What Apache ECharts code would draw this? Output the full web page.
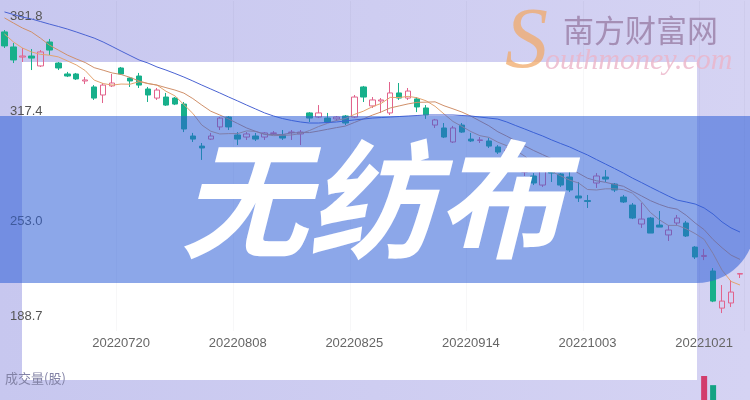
<!DOCTYPE html>
<html><head><meta charset="utf-8">
<script src="https://cdn.jsdelivr.net/npm/echarts@6/dist/echarts.min.js"></script>
<style>html,body{margin:0;padding:0;background:#c9c9ef}#c{width:750px;height:400px}</style>
</head><body><div id="c"></div>
<script>
const dates = ['20220630','20220704','20220705','20220706','20220707','20220708','20220711','20220712','20220713','20220714','20220715','20220718','20220719','20220720','20220721','20220722','20220725','20220726','20220727','20220728','20220729','20220801','20220802','20220803','20220804','20220805','20220808','20220809','20220810','20220811','20220812','20220815','20220816','20220817','20220818','20220819','20220822','20220823','20220824','20220825','20220826','20220829','20220830','20220831','20220901','20220902','20220905','20220906','20220907','20220908','20220909','20220913','20220914','20220915','20220916','20220919','20220920','20220921','20220922','20220923','20220926','20220927','20220928','20220929','20220930','20221003','20221005','20221006','20221007','20221010','20221011','20221012','20221013','20221014','20221017','20221018','20221019','20221020','20221021','20221024','20221025','20221026','20221027'];
// [open, close, low, high]
const candles = [
[363.7,355.5,354.3,364.8],[354.9,347.3,345.5,357.2],[349.0,349.6,346.1,354.3],[349.6,348.4,341.4,353.7],[343.8,352.0,343.2,353.1],
[357.8,353.1,350.2,359.6],[345.5,342.6,341.4,346.1],[339.1,337.9,337.3,340.3],[339.1,336.2,335.6,339.7],[335.0,335.6,333.2,337.3],
[331.5,325.0,323.9,332.6],[326.8,332.6,322.1,333.8],[332.1,333.8,331.5,339.1],[342.6,339.1,338.5,343.2],[336.7,335.0,331.5,337.3],
[337.9,332.6,330.9,339.7],[330.3,326.8,322.7,331.5],[325.0,329.7,323.9,330.9],[325.6,320.9,320.4,328.0],[325.0,321.5,320.9,325.6],
[321.5,306.9,305.1,322.7],[302.8,301.0,299.3,304.6],[296.9,295.8,288.8,298.7],[301.0,302.8,300.5,304.6],[308.1,313.3,306.3,313.9],
[313.9,308.1,306.3,314.5],[303.4,301.0,297.5,305.1],[302.2,304.0,300.5,305.1],[302.8,301.0,299.9,304.6],[302.2,304.6,300.5,305.1],
[304.3,304.6,303.4,305.7],[303.4,301.6,300.5,306.3],[304.8,305.1,300.5,306.3],[304.0,305.1,297.5,306.3],[316.3,313.3,311.0,316.8],
[313.9,316.3,313.3,320.9],[313.3,311.0,310.4,316.3],[312.8,313.9,311.6,314.5],[314.5,310.4,309.2,315.1],[313.9,325.6,313.3,326.8],
[331.5,325.6,322.7,332.1],[320.4,323.9,319.2,325.6],[323.3,323.9,316.3,325.0],[316.3,328.0,315.1,334.4],[328.0,325.0,323.9,333.8],
[325.0,329.1,323.9,330.9],[324.5,319.8,316.8,325.6],[319.2,315.1,312.8,320.9],[309.2,312.2,307.5,312.8],[307.5,302.2,301.6,310.4],
[299.3,307.5,298.7,308.7],[309.2,305.1,304.6,310.4],[301.0,299.9,299.3,304.6],[300.2,300.5,298.7,302.2],[299.9,296.9,295.8,301.6],
[296.4,293.4,292.3,297.5],[291.7,294.6,288.8,296.4],[289.3,286.4,285.2,291.1],[281.7,283.5,279.4,285.8],[279.4,275.3,274.1,281.1],
[274.1,283.5,273.0,287.6],[282.9,281.1,275.9,283.5],[280.6,274.1,273.0,281.1],[278.8,271.2,270.0,283.5],[267.7,266.5,264.2,275.9],
[265.0,264.5,260.7,268.3],[275.3,279.4,272.4,281.1],[278.8,277.6,275.9,282.9],[274.7,271.2,270.0,275.3],[267.1,264.2,263.6,268.3],
[262.4,254.8,254.2,263.6],[251.3,254.2,249.0,263.6],[254.8,246.0,246.0,255.4],[250.7,249.5,249.5,258.9],[244.9,247.8,241.4,250.7],
[251.9,254.8,250.7,256.6],[251.9,244.3,243.7,253.1],[237.8,232.0,230.8,238.4],[232.3,232.9,230.2,236.7],[223.8,206.2,205.6,225.5],
[202.1,206.2,199.2,215.6],[205.1,211.5,202.7,218.5],[222.0,222.3,219.7,222.6]
];
const ma5 = [362.5,357.8,354.3,352.0,350.6,350.1,349.1,346.8,344.4,341.1,
335.5,333.5,332.6,333.2,333.1,334.6,333.5,332.6,329.0,326.3,
321.2,316.0,309.2,305.6,304.0,304.2,304.2,305.8,305.5,303.7,
303.0,303.2,303.4,304.2,306.0,308.3,310.2,311.9,313.0,315.4,
317.3,319.9,321.9,325.4,325.3,326.0,325.2,323.4,320.2,315.7,
311.3,308.4,305.4,303.0,302.0,299.2,297.1,294.4,291.0,286.6,
284.7,282.0,279.5,277.0,275.3,271.5,271.2,271.9,271.9,271.4,
269.4,264.4,258.1,253.8,250.5,250.5,248.5,245.7,242.3,234.0,
224.3,217.7,215.6];
const ma10 = [371.9,368.9,366.0,363.7,360.1,356.0,353.1,350.2,347.9,345.8,
342.8,341.3,339.7,338.8,337.1,335.0,333.5,332.6,331.1,329.7,
327.9,324.7,320.9,317.3,315.1,312.7,310.1,307.5,305.5,303.9,
303.6,303.7,304.6,304.8,304.8,305.7,306.7,307.7,308.6,310.7,
312.8,315.0,316.9,319.2,320.4,321.6,322.5,322.6,322.8,320.5,
318.7,316.8,314.4,311.6,308.8,305.3,302.7,299.9,297.0,294.3,
291.9,289.5,286.9,284.0,281.0,278.1,276.6,275.7,274.5,273.4,
270.5,267.8,265.0,262.8,261.0,260.0,256.4,251.9,248.0,242.2,
237.4,233.1,230.6];
const ma20 = [375.4,373.9,372.4,371.3,369.8,368.3,366.9,365.4,363.7,361.9,
360.1,357.8,355.2,352.5,349.9,347.3,345.5,343.2,341.4,339.4,
337.3,335.0,332.6,330.3,328.0,325.6,323.3,320.9,318.6,316.3,
314.5,313.0,311.9,311.0,310.4,310.4,310.7,311.0,311.6,312.2,
312.7,313.3,313.6,313.9,314.2,314.5,314.8,315.1,315.1,315.1,
315.1,314.8,314.5,313.9,313.3,312.7,311.0,308.9,306.9,304.8,
302.8,300.5,298.4,296.4,294.0,291.7,289.0,286.4,283.8,281.1,
278.2,275.6,272.9,270.3,267.7,265.3,264.2,263.0,260.7,257.1,
252.5,249.0,246.6];
const volumes = [2150000,2480000,1630000,1720000,2050000,1980000,1560000,1210000,1380000,1120000,
2310000,2060000,1540000,1890000,1270000,1650000,1830000,1470000,1920000,1380000,
3950000,2870000,2240000,1980000,2560000,2430000,1760000,1350000,1420000,1290000,
1080000,1310000,1170000,1640000,2790000,1860000,1530000,1120000,1470000,3260000,
2980000,1850000,1620000,3140000,2270000,1930000,2120000,1880000,1560000,2410000,
2230000,1740000,1690000,1320000,1850000,1920000,1610000,2040000,1780000,2260000,
2580000,1490000,2130000,2470000,2690000,2310000,2020000,1570000,1840000,2350000,
3120000,2480000,2890000,1960000,2240000,2010000,2760000,3380000,14200000,12600000,
5600000,3900000,2100000];
const yTicks = [188.7, 253.0, 317.4, 381.8];
const title = '无纺布';
const volLabel = '成交量(股)';

const upColor = '#e2638c', downColor = '#17b08b';
const chart = echarts.init(document.getElementById('c'));
const volData = volumes.map((v, i) => ({
  value: v,
  itemStyle: { color: candles[i][1] >= candles[i][0] ? '#d23d6c' : '#14a383' }
}));
const showIdx = (i) => i > 0 && i % 13 === 0;
chart.setOption({
  animation: false,
  backgroundColor: { type: 'linear', x: 0, y: 0, x2: 1, y2: 0,
    colorStops: [{ offset: 0, color: '#c7c7ef' }, { offset: 1, color: '#d5d3f3' }] },
  grid: [
    { left: -2.5, right: 5.5, top: 1, height: 330 },
    { left: -2.5, right: 5.5, top: 376, height: 24 }
  ],
  xAxis: [
    { type: 'category', data: dates, gridIndex: 0, boundaryGap: true,
      axisLine: { show: false }, axisTick: { show: false },
      axisLabel: { interval: showIdx, color: '#666', fontSize: 13, margin: 6, fontFamily: 'Liberation Sans' },
      splitLine: { show: true, interval: showIdx, lineStyle: { color: 'rgba(0,0,40,0.03)' } } },
    { type: 'category', data: dates, gridIndex: 1, show: false }
  ],
  yAxis: [
    { type: 'value', gridIndex: 0, min: 188.7, max: 381.8, scale: true,
      axisLine: { show: false }, axisTick: { show: false }, splitLine: { show: false },
      axisLabel: { inside: true, margin: 10, customValues: yTicks,
        formatter: (v) => {
          const s = v.toFixed(1);
          if (Math.abs(v - yTicks[3]) < 0.01) return '{t|' + s + '}';
          if (Math.abs(v - yTicks[0]) < 0.01) return '{b|' + s + '}';
          return '{m|' + s + '}';
        },
        rich: {
          t: { padding: [30, 0, 0, 0], color: '#555', fontSize: 13, fontFamily: 'Liberation Sans' },
          b: { padding: [0, 0, 30, 0], color: '#555', fontSize: 13, fontFamily: 'Liberation Sans' },
          m: { color: '#555', fontSize: 13, fontFamily: 'Liberation Sans' }
        } } },
    { type: 'value', gridIndex: 1, show: false, min: 10000000, max: 'dataMax' }
  ],
  series: [
    { type: 'candlestick', name: 'K', data: candles, xAxisIndex: 0, yAxisIndex: 0, barWidth: 6,
      itemStyle: { color: 'rgba(0,0,0,0)', color0: downColor, borderColor: upColor, borderColor0: downColor, borderWidth: 1 } },
    { type: 'line', name: 'MA5', data: ma5, symbol: 'none', smooth: false,
      lineStyle: { width: 1, color: '#e3a36f' } },
    { type: 'line', name: 'MA10', data: ma10, symbol: 'none', smooth: false,
      lineStyle: { width: 1, color: '#d0906a' } },
    { type: 'line', name: 'MA20', data: ma20, symbol: 'none', smooth: false,
      lineStyle: { width: 1, color: '#4a63d3' } },
    { type: 'bar', name: 'VOL', data: volData, xAxisIndex: 1, yAxisIndex: 1, barWidth: 6, clip: true }
  ],
  graphic: [
    { type: 'rect', z: -1, silent: true, shape: { x: 22, y: 62, width: 675, height: 318 }, style: { fill: '#ffffff' } },
    { type: 'rect', z: 50, silent: true, shape: { x: 0, y: 116, width: 755, height: 167, r: [0, 0, 58, 0] },
      style: { fill: 'rgba(45,95,215,0.55)' } },
    { type: 'text', z: 60, silent: true,
      style: { text: title, x: 372, y: 199, align: 'center', verticalAlign: 'middle',
        font: 'italic bold 128px "Noto Sans CJK SC"', fill: '#ffffff' } },
    { type: 'text', z: 60, silent: true,
      style: { text: 'S', x: 505, y: 44, verticalAlign: 'middle',
        font: 'italic 86px "Liberation Serif"', fill: 'rgba(240,170,105,0.75)' } },
    { type: 'text', z: 60, silent: true,
      style: { text: '南方财富网', x: 563, y: 30, verticalAlign: 'middle',
        font: '31px "Noto Sans CJK SC"', fill: 'rgba(150,120,160,0.75)' } },
    { type: 'text', z: 60, silent: true,
      style: { text: 'outhmoney.com', x: 545, y: 61, verticalAlign: 'middle',
        font: 'italic 30px "Liberation Serif"', fill: 'rgba(235,180,200,0.8)' } },
    { type: 'text', z: 60, silent: true,
      style: { text: volLabel, x: 5, y: 378, verticalAlign: 'middle',
        font: '13px "Noto Sans CJK SC"', fill: '#8383a6' } }
  ]
});
</script></body></html>
